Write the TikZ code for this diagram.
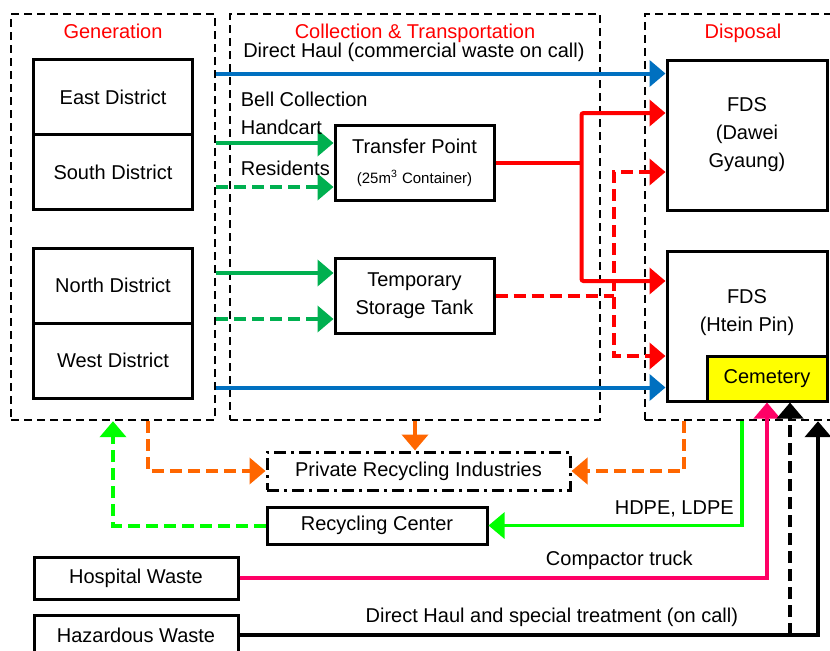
\documentclass[tikz,border=0pt]{standalone}
\usepackage{fontspec}
\setmainfont{Liberation Sans}
\usetikzlibrary{arrows.meta,positioning}
\definecolor{flowblue}{RGB}{0,112,192}
\definecolor{flowgreen}{RGB}{0,176,80}
\definecolor{flowred}{RGB}{255,0,0}
\definecolor{floworange}{RGB}{255,102,0}
\definecolor{flowlime}{RGB}{0,255,0}
\definecolor{flowpink}{RGB}{255,0,102}
\definecolor{cemyellow}{RGB}{255,255,0}

\begin{document}
\begin{tikzpicture}[
      x=0.5pt, y=-0.5pt,
      every node/.style={font=\fontsize{10}{14}\selectfont},
      zone/.style={draw,line width=1.2pt,dash pattern=on 4pt off 2.5pt,minimum height=203pt},
      title/.style={text=flowred},
      box/.style={draw,line width=1.5pt,align=center,minimum width=79.5pt,minimum height=37.5pt},
      fds/.style={box,minimum width=80pt,minimum height=75pt},
      wastebox/.style={box,minimum width=102pt,minimum height=21pt},
      recbox/.style={draw,line width=1.5pt,minimum height=19pt},
      flowline/.style={line width=2pt},
      arrow/.style={line width=2pt,-{Triangle[length=8pt,width=13pt]}},
      twoarrow/.style={line width=2pt,{Triangle[length=8pt,width=13pt]}-{Triangle[length=8pt,width=13pt]}},
      dashflow/.style={dash pattern=on 6pt off 3pt}
    ]
      \useasboundingbox (0,0) rectangle (830,650);
      \node[zone,minimum width=102pt] (gen) at (113,217) {};
      \node[zone,minimum width=185pt] (col) at (415,217) {};
      \node[zone,minimum width=98pt] (dis) at (743,217) {};
      \node[title,below=2pt of gen.north] (gentitle) {Generation};
      \node[title,below=2pt of col.north] (coltitle) {Collection \& Transportation};
      \node[title,below=2pt of dis.north] (distitle) {Disposal};

      \node[box] (east) at (113,97) {East District};
      \node[box,below=-1.5pt of east] (south) {South District};
      \node[box] (north) at (113,285.5) {North District};
      \node[box,below=-1.5pt of north] (west) {West District};

      \node[box] (tp) at (414.5,162.5) {Transfer Point\\[1pt]{\fontsize{7.5}{9}\selectfont(25m\textsuperscript{3} Container)}};
      \node[box,below=27.5pt of tp] (tst) {Temporary\\Storage Tank};

      \node[fds] (dawei) at (747,135) {FDS\\(Dawei\\Gyaung)};
      \node[fds,below=19pt of dawei] (htein) {};
      \node[align=center] (hteintext) at ([yshift=6.5pt]htein.center) {FDS\\(Htein Pin)};
      \node[box,fill=cemyellow,minimum width=60pt,minimum height=22.5pt,anchor=south east] (cem) at (htein.south east) {Cemetery};

      \node[recbox,dash pattern=on 6pt off 2.5pt on 1.5pt off 2.5pt,minimum width=151.5pt] (pri) at (418.5,471) {Private Recycling Industries};
      \node[recbox,minimum width=110pt,minimum height=18.5pt,below=7pt of pri.south west,anchor=north west] (rc) {Recycling Center};
      \node[wastebox] (hosp) at (136,578) {Hospital Waste};
      \node[wastebox,minimum height=20pt,below=6.5pt of hosp] (haz) {Hazardous Waste};

      \coordinate (dtop) at ([yshift=-7.5pt]dawei.north west);
      \coordinate (dlow) at ([yshift=7.5pt]htein.south west);
      \draw[arrow,flowblue] (gen.east |- dtop) -- node[above=1.5pt,pos=0.44,text=black] (dhlabel) {Direct Haul (commercial waste on call)} (dtop);
      \draw[arrow,flowblue] (gen.east |- dlow) -- (dlow);

      \coordinate (tpin) at ([yshift=9.75pt]tp.west);
      \coordinate (tpres) at ([yshift=-12.25pt]tp.west);
      \coordinate (tstin) at ([yshift=11.25pt]tst.west);
      \coordinate (tstres) at ([yshift=-11.75pt]tst.west);
      \draw[arrow,flowgreen] (gen.east |- tpin) -- node[above right,pos=0,xshift=8pt,align=left,text=black] (belllabel) {Bell Collection\\Handcart} (tpin);
      \draw[arrow,flowgreen,dashflow] (gen.east |- tpres) -- node[above right,pos=0,xshift=8pt,yshift=1.5pt,text=black] (reslabel) {Residents} (tpres);
      \draw[arrow,flowgreen] (gen.east |- tstin) -- (tstin);
      \draw[arrow,flowgreen,dashflow] (gen.east |- tstres) -- (tstres);

      \coordinate (rsplit) at ([xshift=43pt]tp.east);
      \draw[flowline,flowred] (tp.east) -- (rsplit);
      \draw[twoarrow,flowred,rounded corners=1pt] ([yshift=11pt]dawei.west) -| (rsplit) |- ([yshift=22.5pt]htein.west);
      \coordinate (rdsplit) at ([xshift=59pt]tst.east);
      \draw[flowline,flowred,dashflow] (tst.east) -- (rdsplit);
      \draw[twoarrow,flowred,dashflow] ([yshift=-18.5pt]dawei.west) -| (rdsplit) |- ([yshift=-15pt]htein.west);

      \draw[arrow,floworange,dashflow] ([xshift=17.5pt]gen.south) |- (pri.west);
      \draw[arrow,floworange] (col.south) -- (col.south |- pri.north);
      \draw[arrow,floworange,dashflow] ([xshift=-29.5pt]dis.south) |- (pri.east);

      \draw[arrow,flowlime,dashflow] (rc.west) -| (gen.south);
      \draw[arrow,flowlime,line width=1.6pt] ([xshift=-0.5pt]dis.south) |- node[pos=0.5,above left,text=black] (plabel) {HDPE, LDPE} (rc.east);

      \draw[arrow,flowpink] (hosp.east) -| node[pos=0.36,above,text=black] (ctlabel) {Compactor truck} (cem.south);
      \draw[arrow] (haz.east) -| node[pos=0.27,above] (hzlabel) {Direct Haul and special treatment (on call)} ([xshift=37.5pt]dis.south);
      \coordinate (cemin) at ([xshift=11.5pt]cem.south);
      \draw[arrow,dashflow] (cemin |- haz.east) -- (cemin);
    \end{tikzpicture}
\end{document}
